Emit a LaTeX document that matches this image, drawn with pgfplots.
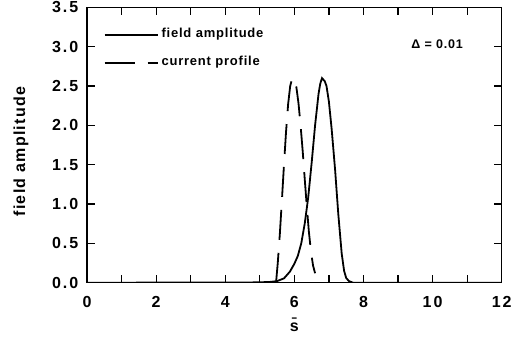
\documentclass[border=0pt]{standalone}
\usepackage{fontspec}
\setmainfont{Liberation Sans}
\newfontfamily\tickfont{Liberation Sans}[LetterSpace=12]
\newfontfamily\labfont{Liberation Sans}[LetterSpace=8]
\newfontfamily\legfont{Liberation Sans}[LetterSpace=6]
\usepackage{pgfplots}
\pgfplotsset{compat=1.18}
\pgfkeys{/pgf/number format/assume math mode=true}
\pgfplotsset{
  every tick/.style={black, line width=1.2pt},
  every axis/.append style={line width=1.5pt},
  major tick length=8pt,
}
\begin{document}
\begin{tikzpicture}
\begin{axis}[
  scale only axis, width=414.7pt, height=275.4pt,
  xmin=0, xmax=12, ymin=0, ymax=3.5,
  xtick={0,1,...,12}, xticklabels={0,,2,,4,,6,,8,,10,,12},
  ytick={0,0.5,...,3.5},
  tick align=inside,
  ticklabel style={font=\tickfont\bfseries\fontsize{16}{16}\selectfont},
  yticklabel style={/pgf/number format/fixed, /pgf/number format/fixed zerofill, /pgf/number format/precision=1, anchor=east, xshift=-4.7pt},
  xticklabel style={anchor=center, yshift=-19pt},
  xlabel={\=s}, ylabel={field amplitude},
  label style={font=\labfont\bfseries\fontsize{16}{16}\selectfont},
  xlabel style={at={(axis description cs:0.5,-0.153)}, anchor=center},
  ylabel style={at={(axis description cs:-0.159,0.476)}, anchor=center},
  legend style={draw=none, fill=none, inner sep=0pt,
    at={(axis description cs:0.0386,0.924)}, anchor=north west,
    row sep=16pt, column sep=3pt,
    nodes={inner sep=0pt, text height=9pt, text depth=3pt},
    font=\legfont\bfseries\fontsize{13}{13}\selectfont},
  legend cell align=left,
  legend image code/.code={\draw[#1] (0pt,0pt) -- (53pt,0pt);},
  extra description/.code={
    \foreach \x in {2,4,6,8,10} {
      \draw[black, line width=1.2pt] (axis cs:\x,0) -- ++(0pt,8pt);
      \draw[black, line width=1.2pt] (axis cs:\x,3.5) -- ++(0pt,-8pt);
    }
    \foreach \x in {1,3,5,7,9,11} {
      \draw[black, line width=1.2pt] (axis cs:\x,0) -- ++(0pt,5pt);
      \draw[black, line width=1.2pt] (axis cs:\x,3.5) -- ++(0pt,-5pt);
    }
    \foreach \y in {0.5,1.0,1.5,2.0,2.5,3.0} {
      \draw[black, line width=1.2pt] (axis cs:0,\y) -- ++(8pt,0pt);
      \draw[black, line width=1.2pt] (axis cs:12,\y) -- ++(-8pt,0pt);
    }
  },
]
\addplot[black, line width=1.8pt] coordinates {
(0,0) (4.5,0.002) (5.0,0.005) (5.3,0.01) (5.5,0.02) (5.7,0.055) (5.87,0.14)
(6.0,0.24) (6.1,0.34) (6.2,0.50) (6.3,0.75) (6.4,1.08) (6.5,1.52) (6.6,2.00)
(6.7,2.40) (6.75,2.53) (6.80,2.60) (6.88,2.56) (6.93,2.50) (7.0,2.30)
(7.08,1.95) (7.18,1.43) (7.27,0.88) (7.37,0.37) (7.44,0.15) (7.5,0.06)
(7.58,0.02) (7.7,0) (12,0)
};
\addlegendentry{field amplitude}
\addplot[black, line width=1.8pt, dash pattern=on 30pt off 13pt] coordinates {
(5.47,0) (5.52,0.25) (5.58,0.62) (5.64,1.05) (5.70,1.50) (5.76,1.92)
(5.82,2.27) (5.88,2.50) (5.94,2.60) (6.00,2.58) (6.06,2.48) (6.12,2.28)
(6.18,2.00) (6.24,1.68) (6.30,1.32) (6.36,0.97) (6.42,0.65) (6.48,0.40)
(6.54,0.22) (6.60,0.12)
};
\addlegendentry{current profile}
\node[font=\legfont\bfseries\fontsize{12.5}{12.5}\selectfont] at (axis cs:10.13,3.03) {Δ = 0.01};
\coordinate (ll) at (rel axis cs:0,0);
\coordinate (ur) at (rel axis cs:1,1);
\end{axis}
\pgfresetboundingbox
\path ([shift={(-87pt,-56.3pt)}]ll) rectangle ([shift={(24.3pt,7.3pt)}]ur);
\end{tikzpicture}
\end{document}
